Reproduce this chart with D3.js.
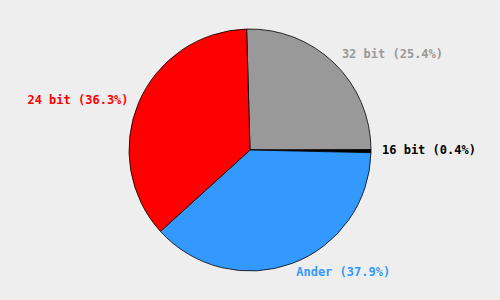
<!DOCTYPE html>
<html>
<head>
<meta charset="utf-8">
<script src="https://cdn.jsdelivr.net/npm/d3@7"></script>
<style>
  body { margin: 0; background: #eeeeee; }
  svg { display: block; }
  .label { font-family: "DejaVu Sans Mono", monospace; font-size: 12px; font-weight: bold; }
</style>
</head>
<body>
<div class="chart"></div>
<script>
// Chart data
var labels = ["32 bit", "16 bit", "Ander", "24 bit"];
var values = [25.4, 0.4, 37.9, 36.3];
var colors = ["#999999", "#000000", "#3399ff", "#ff0000"];

var svgWidth = 500;
var svgHeight = 300;
var cx = 250, cy = 150, radius = 121;
var startAngle = -1.6 * Math.PI / 180;

var svg = d3.select(".chart")
    .append("svg")
    .attr("width", svgWidth)
    .attr("height", svgHeight);

svg.append("rect")
    .attr("width", svgWidth)
    .attr("height", svgHeight)
    .attr("fill", "#eeeeee");

var data = labels.map(function(l, i) {
    return {label: l, value: values[i], color: colors[i]};
});

var pie = d3.pie()
    .sort(null)
    .value(function(d) { return d.value; })
    .startAngle(startAngle)
    .endAngle(startAngle + 2 * Math.PI);

var arc = d3.arc()
    .innerRadius(0)
    .outerRadius(radius);

var chart = svg.append("g")
    .attr("transform", "translate(" + cx + "," + cy + ")");

var arcs = pie(data);

chart.selectAll(".slice")
    .data(arcs)
    .enter()
    .append("path")
    .attr("class", "slice")
    .attr("d", arc)
    .attr("fill", function(d) { return d.data.color; })
    .attr("stroke", "#000")
    .attr("stroke-width", 0.8);

// labels outside the pie
var gap = 11;
chart.selectAll(".label")
    .data(arcs)
    .enter()
    .append("text")
    .attr("class", "label")
    .attr("x", function(d) {
        var a = (d.startAngle + d.endAngle) / 2;
        return (radius + gap) * Math.sin(a);
    })
    .attr("y", function(d) {
        var a = (d.startAngle + d.endAngle) / 2;
        return -(radius + gap) * Math.cos(a);
    })
    .attr("dy", function(d) {
        var a = (d.startAngle + d.endAngle) / 2;
        return Math.sin(a) < 0 ? "0.5em" : "0.2em";
    })
    .attr("text-anchor", function(d) {
        var a = (d.startAngle + d.endAngle) / 2;
        return Math.sin(a) < 0 ? "end" : "start";
    })
    .attr("fill", function(d) { return d.data.color; })
    .text(function(d) { return d.data.label + " (" + d.data.value.toFixed(1) + "%)"; });
</script>
</body>
</html>
